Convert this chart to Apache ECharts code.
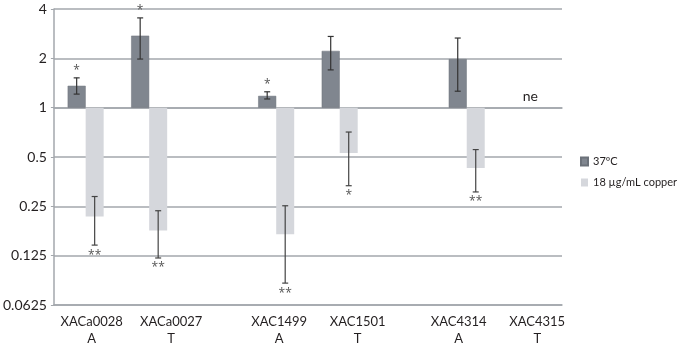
<!DOCTYPE html>
<html style="height: 100%">
<head>
<meta charset="utf-8">
</head>
<body style="height: 100%; margin: 0; background: #fff">
<div id="container" style="width: 680px; height: 347px;"></div>
<script type="text/javascript" src="https://cdn.jsdelivr.net/npm/echarts/dist/echarts.min.js"></script>
<script type="text/javascript">
// categories (empty slots are the gaps between gene pairs)
var categories = ['XACa0028\nA', 'XACa0027\nT', '', 'XAC1499\nA', 'XAC1501\nT', '', 'XAC4314\nA', 'XAC4315\nT'];
var yTicks = [0.0625, 0.125, 0.25, 0.5, 1, 2, 4];

// relative expression, 37 ºC
var temp37 = [1.36, 2.75, null, 1.18, 2.22, null, 1.98, null];
var temp37Low = [1.21, 1.98, null, 1.13, 1.70, null, 1.26, null];
var temp37High = [1.52, 3.53, null, 1.25, 2.72, null, 2.66, null];
var temp37Sig = ['*', '*', '', '*', '', '', '', ''];

// relative expression, 18 µg/mL copper
var copper = [0.217, 0.178, null, 0.169, 0.529, null, 0.428, null];
var copperLow = [0.145, 0.121, null, 0.085, 0.334, null, 0.306, null];
var copperHigh = [0.287, 0.235, null, 0.252, 0.71, null, 0.555, null];
var copperSig = ['**', '**', '', '**', '*', '', '**', ''];

var notes = [[7, 1, 'ne']];

var FONT = 'Lato';
var GRID = {left: 49, right: 118, top: 9, bottom: 42};
var plotH = 347 - GRID.top - GRID.bottom;
var BAR_W = 18;
// the original labels sit a little off their category centres
var labelNudge = [6, 22, 0, 3, 18, 0, -8, 7];

var xLabels = categories.map(function (c, i) {
    var n = labelNudge[i];
    return {value: c, textStyle: {padding: n >= 0 ? [0, 0, 0, 2 * n] : [0, -2 * n, 0, 0]}};
});

function errRows(low, high, sig) {
    var rows = [];
    low.forEach(function (v, i) {
        if (v != null) rows.push([i, low[i], high[i], sig[i]]);
    });
    return rows;
}

function errRenderer(shift, up, lineColor) {
    return function (params, api) {
        var lo = api.coord([api.value(0), api.value(1)]);
        var hi = api.coord([api.value(0), api.value(2)]);
        var x = lo[0] + shift;
        var sig = api.value(3);
        var children = [
            {type: 'line', shape: {x1: x, y1: lo[1], x2: x, y2: hi[1]}, style: {stroke: lineColor, lineWidth: 1.2}},
            {type: 'line', shape: {x1: x - 3, y1: lo[1], x2: x + 3, y2: lo[1]}, style: {stroke: lineColor, lineWidth: 1.2}},
            {type: 'line', shape: {x1: x - 3, y1: hi[1], x2: x + 3, y2: hi[1]}, style: {stroke: lineColor, lineWidth: 1.2}}
        ];
        if (sig) {
            children.push({
                type: 'text',
                style: {
                    text: sig, x: x, y: up ? hi[1] - 1 : lo[1] + 4,
                    align: 'center', verticalAlign: up ? 'bottom' : 'top',
                    font: '12px "Open Sans"', fill: '#555'
                }
            });
        }
        return {type: 'group', children: children};
    };
}

var dom = document.getElementById('container');
var myChart = echarts.init(dom);

var option = {
    animation: false,
    textStyle: {fontFamily: FONT},
    grid: GRID,
    legend: {
        orient: 'vertical',
        left: 580, top: 156,
        padding: 0,
        itemGap: 10,
        itemWidth: 7, itemHeight: 8,
        icon: 'rect',
        textStyle: {fontSize: 11, color: '#231f20', fontFamily: FONT},
        data: ['37ºC', '18 µg/mL copper']
    },
    xAxis: [{
        type: 'category',
        data: xLabels,
        axisLine: {lineStyle: {color: '#a3a7ac', width: 1.5}},
        axisTick: {show: false},
        axisLabel: {fontSize: 13, color: '#231f20', lineHeight: 17, margin: 8, interval: 0}
    }, {
        // the baseline at 1 carries the category ticks
        type: 'category',
        data: categories,
        position: 'top',
        offset: -plotH * 2 / 6,
        axisLine: {lineStyle: {color: '#a3a7ac', width: 1.5}},
        axisTick: {inside: true, length: 4, lineStyle: {color: '#a3a7ac'}},
        axisLabel: {show: false}
    }],
    yAxis: {
        type: 'log',
        logBase: 2,
        min: yTicks[0],
        max: yTicks[yTicks.length - 1],
        splitNumber: 6,
        axisLine: {show: true, lineStyle: {color: '#a3a7ac', width: 1.5}},
        axisTick: {show: true, length: 3, lineStyle: {color: '#a3a7ac'}},
        splitLine: {lineStyle: {color: '#a3a7ac', width: 1.5}},
        axisLabel: {
            fontSize: 14, color: '#231f20', margin: 7,
            formatter: function (v) { return String(+v.toPrecision(6)); }
        }
    },
    series: [{
        name: '37ºC',
        type: 'bar',
        data: temp37,
        barWidth: BAR_W,
        barGap: '0%',
        itemStyle: {color: '#80868f', borderColor: '#6c727a', borderWidth: 0.5}
    }, {
        name: '18 µg/mL copper',
        type: 'bar',
        data: copper,
        barWidth: BAR_W,
        barGap: '0%',
        itemStyle: {color: '#d5d7dc'}
    }, {
        type: 'custom',
        data: errRows(temp37Low, temp37High, temp37Sig),
        renderItem: errRenderer(-BAR_W / 2, true, '#333'),
        z: 5
    }, {
        type: 'custom',
        data: errRows(copperLow, copperHigh, copperSig),
        renderItem: errRenderer(BAR_W / 2, false, '#444'),
        z: 5
    }, {
        type: 'custom',
        data: notes,
        renderItem: function (params, api) {
            var p = api.coord([api.value(0), api.value(1)]);
            return {
                type: 'text',
                style: {text: notes[params.dataIndex][2], x: p[0], y: p[1] - 4,
                    align: 'center', verticalAlign: 'bottom', font: '14px ' + FONT, fill: '#231f20'}
            };
        },
        z: 5
    }]
};

myChart.setOption(option);
</script>
</body>
</html>
